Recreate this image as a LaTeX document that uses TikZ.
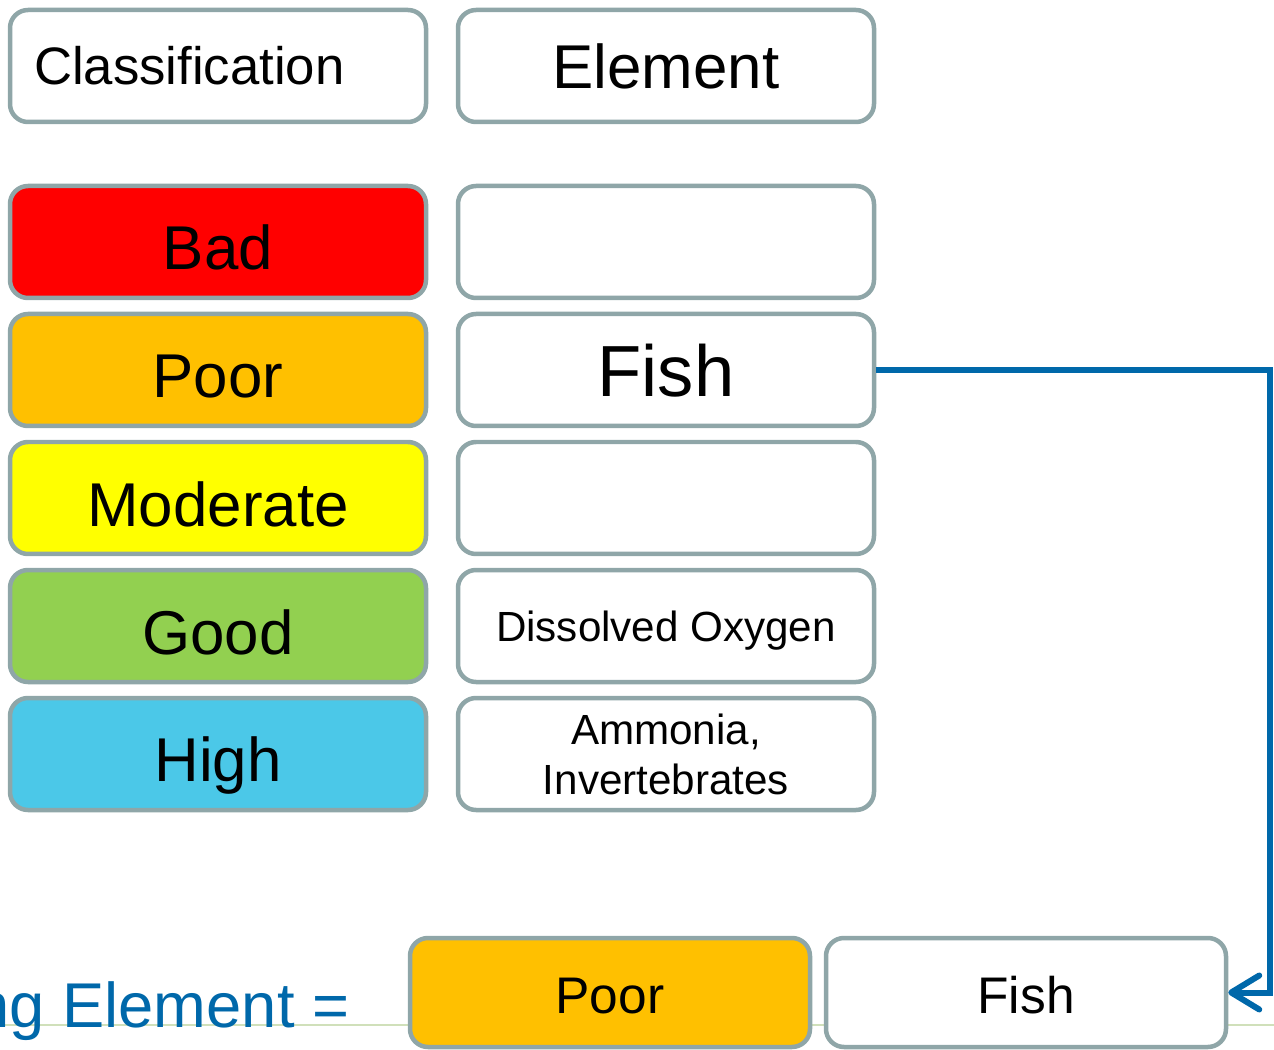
\documentclass[tikz,border=0pt]{standalone}
\usepackage{fontspec}
\setmainfont{Liberation Sans}
\usetikzlibrary{arrows.meta}
\definecolor{boxline}{RGB}{143,166,168}
\definecolor{badred}{RGB}{255,0,0}
\definecolor{poororange}{RGB}{255,192,0}
\definecolor{modyellow}{RGB}{255,255,0}
\definecolor{goodgreen}{RGB}{146,208,80}
\definecolor{highblue}{RGB}{75,200,232}
\definecolor{linkblue}{RGB}{0,104,170}
\definecolor{rulegreen}{RGB}{208,224,186}
\begin{document}
\begin{tikzpicture}[x=.1mm,y=-.1mm,line join=round,
frame/.style={draw=boxline,line width=.45mm,rounded corners=1.8mm,fill=white,inner sep=0pt,minimum width=41.6mm,minimum height=11.2mm},
box/.style={frame,text depth=0pt},
lowbox/.style={box,minimum width=40mm,minimum height=10.9mm},
huge/.style={font=\fontsize{20.6}{24}\selectfont,text height=5.2mm},
big/.style={font=\fontsize{17.6}{21}\selectfont,text height=5.6mm},
head/.style={font=\fontsize{17.6}{21}\selectfont,text height=4.5mm},
mid/.style={font=\fontsize{15}{18}\selectfont,text height=3.8mm},
low/.style={font=\fontsize{14.65}{17}\selectfont,text height=4.2mm},
small/.style={font=\fontsize{12}{14.2}\selectfont},
link/.style={draw=linkblue,line width=.6mm,line join=miter,-{Straight Barb[length=2.8mm,width=3.4mm,round]}}]
\useasboundingbox (0,0) rectangle (1274,1050);
\clip (0,0) rectangle (1274,1050);
\draw[rulegreen,line width=.2mm](0,1025)--(1274,1025);
\node[box,mid,text width=36.8mm,inner xsep=2.4mm,align=left] (classhead) at (218,66) {Classification};
\node[box,head] (elemhead) at (666,66) {Element};
\node[box,big,fill=badred] (bad) at (218,242) {Bad};
\node[box,big,fill=poororange] (poor) at (218,370) {Poor};
\node[box,big,fill=modyellow] (moderate) at (218,498) {Moderate};
\node[box,big,fill=goodgreen] (good) at (218,626) {Good};
\node[box,big,fill=highblue] (high) at (218,754) {High};
\node[box] (badelem) at (666,242) {};
\node[box,huge] (fish) at (666,370) {Fish};
\node[box] (modelem) at (666,498) {};
\node[box,small,text height=3mm] (oxygen) at (666,626) {Dissolved Oxygen};
\node[frame,small,align=center] (ammonia) at (666,754) {Ammonia,\\Invertebrates};
\node[lowbox,low,fill=poororange] (poorlow) at (610,992.5) {Poor};
\node[lowbox,low,text height=4.2mm] (fishlow) at (1026,992.5) {Fish};
\node[anchor=base west,inner sep=0pt,font=\fontsize{18}{21}\selectfont,text=linkblue] (limit) at (-26,1027) {ng Element =};
\coordinate (bend) at (1270,370);
\draw[link](fish.east)--(bend)|-(fishlow.east);
\end{tikzpicture}
\end{document}
